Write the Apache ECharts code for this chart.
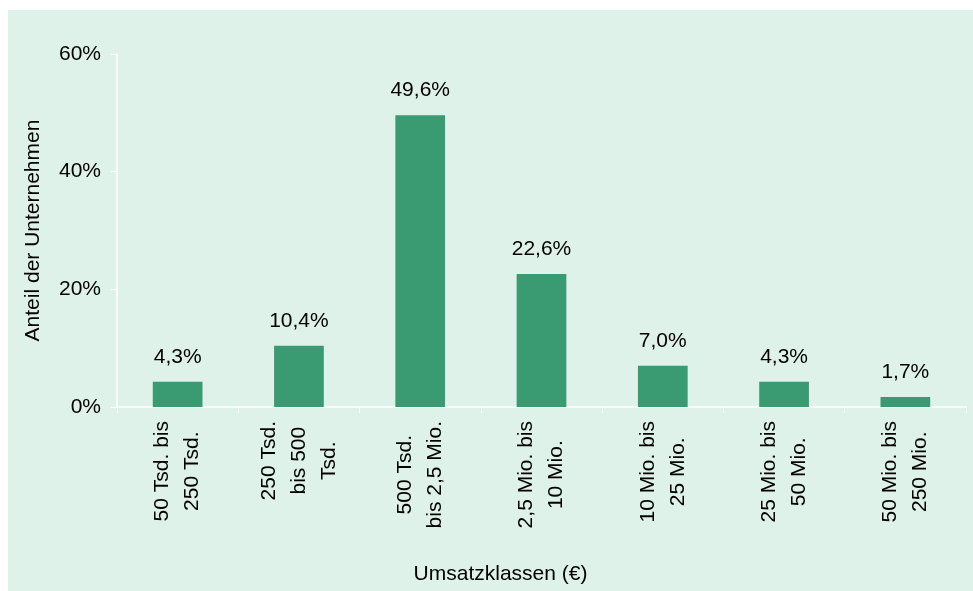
<!DOCTYPE html>
<html>
<head>
<meta charset="utf-8">
<script src="https://cdn.jsdelivr.net/npm/echarts@6/dist/echarts.min.js"></script>
<style>
  html, body { margin: 0; padding: 0; background: #fff; }
  #chart { width: 973px; height: 591px; }
</style>
</head>
<body>
<div id="chart"></div>
<script>
const categories = [
  '50 Tsd. bis\n250 Tsd.',
  '250 Tsd.\nbis 500\nTsd.',
  '500 Tsd.\nbis 2,5 Mio.',
  '2,5 Mio. bis\n10 Mio.',
  '10 Mio. bis\n25 Mio.',
  '25 Mio. bis\n50 Mio.',
  '50 Mio. bis\n250 Mio.'
];
const shares = [4.3, 10.4, 49.6, 22.6, 7.0, 4.3, 1.7];
const yTicks = [0, 20, 40, 60];

const font = 'Liberation Sans, Arial, sans-serif';
const fs = 21;
const chart = echarts.init(document.getElementById('chart'));

chart.setOption({
  backgroundColor: 'transparent',
  animation: false,
  graphic: [{
    type: 'rect',
    z: -10,
    shape: { x: 8, y: 10, width: 965, height: 581 },
    style: { fill: '#dff2e9' }
  }],
  grid: { left: 117, right: 7, top: 54, bottom: 184, outerBoundsMode: 'none', containLabel: false },
  xAxis: {
    type: 'category',
    data: categories,
    name: 'Umsatzklassen (€)',
    nameLocation: 'middle',
    nameGap: 157,
    nameTextStyle: { color: '#000', fontSize: fs, fontFamily: font, padding: [0, 82, 0, 0] },
    axisLine: { lineStyle: { color: '#fff', width: 1.5 } },
    axisTick: { show: true, length: 6, lineStyle: { color: '#fff' } },
    axisLabel: {
      rotate: 90,
      interval: 0,
      margin: 14,
      formatter: (v) => v.split('\n').map((s) => '{c|' + s + '}').join('\n'),
      rich: {
        c: { align: 'center', color: '#000', fontSize: fs, fontFamily: font, lineHeight: 30 }
      }
    }
  },
  yAxis: {
    type: 'value',
    min: yTicks[0],
    max: yTicks[yTicks.length - 1],
    interval: 20,
    name: 'Anteil der Unternehmen',
    nameLocation: 'middle',
    nameGap: 73,
    nameTextStyle: { color: '#000', fontSize: fs, fontFamily: font },
    axisLine: { show: true, lineStyle: { color: '#fff', width: 1.5 } },
    axisTick: { show: true, length: 6, lineStyle: { color: '#fff' } },
    splitLine: { show: false },
    axisLabel: {
      color: '#000',
      fontSize: fs,
      fontFamily: font,
      margin: 16,
      formatter: (v) => v + '%'
    }
  },
  series: [{
    type: 'bar',
    data: shares,
    barWidth: '41%',
    itemStyle: { color: '#3a9a72' },
    label: {
      show: true,
      position: 'top',
      distance: 14,
      color: '#000',
      fontSize: fs,
      fontFamily: font,
      formatter: (p) => p.value.toFixed(1).replace('.', ',') + '%'
    }
  }]
});
</script>
</body>
</html>
